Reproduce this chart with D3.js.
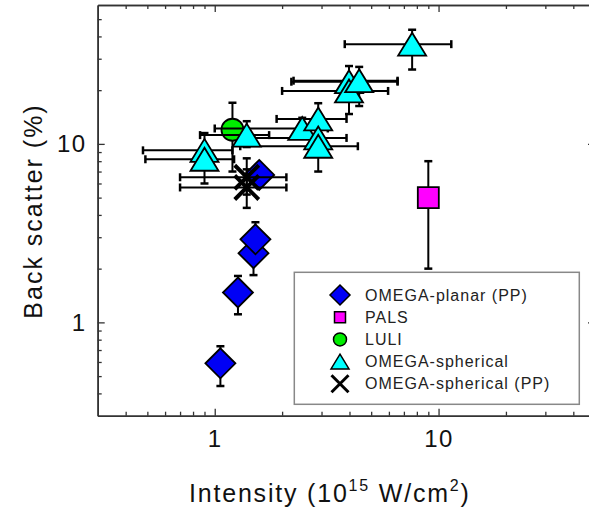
<!DOCTYPE html>
<html>
<head>
<meta charset="utf-8">
<script src="https://cdn.jsdelivr.net/npm/d3@7"></script>
<style>
  html, body { margin: 0; padding: 0; background: #fff; }
  svg { display: block; }
  svg text { font-family: "Liberation Sans", Arial, Helvetica, sans-serif; }
</style>
</head>
<body>
<svg id="chart" width="589" height="515"></svg>
<script>
// Axis ticks
const xMajor = [1, 10];
const xMinor = [0.4, 0.5, 0.6, 0.7, 0.8, 0.9, 2, 3, 4, 5, 6, 7, 8, 9, 20, 30, 40];
const yMajor = [1, 10];
const yMinor = [0.4, 0.5, 0.6, 0.7, 0.8, 0.9, 2, 3, 4, 5, 6, 7, 8, 9, 20, 30, 40, 50];

// OMEGA-planar (PP)
const planarX   = [1.06, 1.27, 1.49, 1.52, 1.58];
const planarY   = [0.59, 1.47, 2.44, 2.92, 6.7];
const planarYLo = [0.44, 1.11, 1.84, 2.25, 6.1];
const planarYHi = [0.735, 1.82, 3.04, 3.64, 7.3];

// PALS
const palsX = [9.0];
const palsY = [5.0];
const palsYLo = [2.0];
const palsYHi = [8.0];

// LULI
const luliX = [1.2];
const luliY = [12];
const luliYLo = [7.0];
const luliYHi = [17];

// OMEGA-spherical
const sphX   = [0.90, 0.90, 1.39, 2.46, 2.90, 2.90, 2.90, 3.98, 3.98, 4.42, 7.62];
const sphY   = [9.2, 8.2, 11.2, 12.2, 13.8, 10.8, 9.7, 22.3, 19.8, 22.6, 36.2];
const sphXLo = [0.478, 0.49, 0.86, 1.0, 1.89, 1.5, 1.3, 2.2, 2.0, 2.25, 3.81];
const sphXHi = [1.2, 1.22, 1.75, 3.2, 3.88, 3.88, 4.36, 6.56, 5.95, 6.56, 11.4];
const sphYLo = [7.6, 6.0, 9.6, 10.8, 12.0, 8.5, 7.0, 19, 14.7, 16.3, 26.1];
const sphYHi = [11.5, 9.5, 13.4, 14.0, 16.9, 12.5, 11.0, 27.3, 23, 27, 43.6];

// OMEGA-spherical (PP)
const sppX   = [1.39, 1.39];
const sppY   = [6.5, 5.7];
const sppXLo = [0.70, 0.70];
const sppXHi = [2.09, 2.09];
const sppYLo = [5.2, 4.38];
const sppYHi = [8.3, 7.2];

const legendLabels = ["OMEGA-planar (PP)", "PALS", "LULI", "OMEGA-spherical", "OMEGA-spherical (PP)"];

const FONT = '"Liberation Sans", Arial, Helvetica, sans-serif';
const svg = d3.select("#chart");
const x = d3.scaleLog().domain([0.3, 50]).range([97.7, 595]);
const y = d3.scaleLog().domain([0.3, 60]).range([415.7, 5]);

const axisColor = "#333";

// frame + ticks on all four sides, ticks pointing inward
function styleAxis(g) {
  g.attr("font-family", FONT).attr("font-size", null);
  g.selectAll("path.domain").attr("stroke", axisColor).attr("stroke-width", 1.6);
  g.selectAll(".tick line").attr("stroke", axisColor).attr("stroke-width", 1.3);
  g.selectAll(".tick text").attr("fill", "#111").style("font-size", "24px")
    .style("letter-spacing", "1.5px");
}
const bottomY = y.range()[0], topY = y.range()[1];
const leftX = x.range()[0], rightX = x.range()[1];

svg.append("g").attr("transform", `translate(0,${bottomY})`)
  .call(d3.axisBottom(x).tickValues(xMinor).tickSize(-4).tickSizeOuter(0).tickFormat(""))
  .call(styleAxis);
svg.append("g").attr("transform", `translate(0,${bottomY})`)
  .call(d3.axisBottom(x).tickValues(xMajor).tickSize(-7).tickSizeOuter(0).tickPadding(14).tickFormat(d3.format("d")))
  .call(styleAxis);
svg.append("g").attr("transform", `translate(0,${topY})`)
  .call(d3.axisTop(x).tickValues(xMinor).tickSize(-4).tickSizeOuter(0).tickFormat(""))
  .call(styleAxis);
svg.append("g").attr("transform", `translate(0,${topY})`)
  .call(d3.axisTop(x).tickValues(xMajor).tickSize(-7).tickSizeOuter(0).tickFormat(""))
  .call(styleAxis);
svg.append("g").attr("transform", `translate(${leftX},0)`)
  .call(d3.axisLeft(y).tickValues(yMinor).tickSize(-4).tickSizeOuter(0).tickFormat(""))
  .call(styleAxis);
svg.append("g").attr("transform", `translate(${leftX},0)`)
  .call(d3.axisLeft(y).tickValues(yMajor).tickSize(-7).tickSizeOuter(0).tickPadding(11).tickFormat(d3.format("d")))
  .call(styleAxis);
svg.append("g").attr("transform", `translate(${rightX},0)`)
  .call(d3.axisRight(y).tickValues(yMinor).tickSize(-4).tickSizeOuter(0).tickFormat(""))
  .call(styleAxis);
svg.append("g").attr("transform", `translate(${rightX},0)`)
  .call(d3.axisRight(y).tickValues(yMajor).tickSize(-7).tickSizeOuter(0).tickFormat(""))
  .call(styleAxis);

// axis titles
const xt = svg.append("text").attr("x", 189).attr("y", 501.7).attr("font-family", FONT)
  .style("font-size", "25px").style("letter-spacing", "1.8px").attr("fill", "#111");
xt.append("tspan").text("Intensity (10");
xt.append("tspan").attr("dy", -11).style("font-size", "16px").text("15");
xt.append("tspan").attr("dy", 11).text(" W/cm");
xt.append("tspan").attr("dy", -11).style("font-size", "16px").text("2");
xt.append("tspan").attr("dy", 11).text(")");

svg.append("text")
  .attr("transform", "translate(41.5,211) rotate(-90)")
  .attr("text-anchor", "middle").attr("font-family", FONT)
  .style("font-size", "25px").style("letter-spacing", "2px").attr("fill", "#111")
  .text("Back scatter (%)");

// marker shapes
const shapes = {
  diamond: (s) => `M0,${-s}L${s},0L0,${s}L${-s},0Z`,
  square: (s) => `M${-s},${-s}H${s}V${s}H${-s}Z`,
  triangle: (s) => `M0,${-s * 0.82}L${s},${s * 0.82}L${-s},${s * 0.82}Z`
};

function rows(xs, ys, xlo, xhi, ylo, yhi) {
  return xs.map((v, i) => ({
    x: v, y: ys[i],
    xlo: xlo ? xlo[i] : null, xhi: xhi ? xhi[i] : null,
    ylo: ylo ? ylo[i] : null, yhi: yhi ? yhi[i] : null
  }));
}

const cap = 4;
function errorBars(g, data) {
  const eb = g.append("g").attr("stroke", "#000").attr("stroke-width", 2).attr("fill", "none");
  data.forEach(d => {
    const cx = x(d.x), cy = y(d.y);
    if (d.ylo != null) {
      eb.append("line").attr("x1", cx).attr("x2", cx).attr("y1", y(d.ylo)).attr("y2", y(d.yhi));
      [d.ylo, d.yhi].forEach(v => eb.append("line").attr("stroke-width", 2.5)
        .attr("x1", cx - cap).attr("x2", cx + cap).attr("y1", y(v)).attr("y2", y(v)));
    }
    if (d.xlo != null) {
      eb.append("line").attr("y1", cy).attr("y2", cy).attr("x1", x(d.xlo)).attr("x2", x(d.xhi));
      [d.xlo, d.xhi].forEach(v => eb.append("line").attr("stroke-width", 2.5)
        .attr("y1", cy - cap).attr("y2", cy + cap).attr("x1", x(v)).attr("x2", x(v)));
    }
  });
}

function drawSeries(data, kind, fill, size) {
  const g = svg.append("g");
  errorBars(g, data);
  g.selectAll("path.m").data(data).join("path").attr("class", "m")
    .attr("transform", d => `translate(${x(d.x)},${y(d.y)})`)
    .attr("d", shapes[kind](size))
    .attr("fill", fill).attr("stroke", "#000").attr("stroke-width", 1.8)
    .attr("stroke-linejoin", "miter");
}

drawSeries(rows(planarX, planarY, null, null, planarYLo, planarYHi), "diamond", "#0000f5", 15);
drawSeries(rows(palsX, palsY, null, null, palsYLo, palsYHi), "square", "#ff00ff", 10.5);

const luli = rows(luliX, luliY, null, null, luliYLo, luliYHi);
const gl = svg.append("g");
errorBars(gl, luli);
gl.selectAll("circle").data(luli).join("circle")
  .attr("cx", d => x(d.x)).attr("cy", d => y(d.y)).attr("r", 11)
  .attr("fill", "#00ee00").attr("stroke", "#000").attr("stroke-width", 1.8);

drawSeries(rows(sphX, sphY, sphXLo, sphXHi, sphYLo, sphYHi), "triangle", "#00ffff", 14);

const spp = rows(sppX, sppY, sppXLo, sppXHi, sppYLo, sppYHi);
const gx = svg.append("g");
errorBars(gx, spp);
gx.selectAll("path.x").data(spp).join("path").attr("class", "x")
  .attr("transform", d => `translate(${x(d.x)},${y(d.y)})`)
  .attr("d", "M-12,-12L12,12M12,-12L-12,12")
  .attr("stroke", "#000").attr("stroke-width", 4).attr("fill", "none");

// legend
const lg = svg.append("g");
lg.append("rect").attr("x", 294.3).attr("y", 272.3).attr("width", 285).attr("height", 132)
  .attr("fill", "#fff").attr("stroke", "#888").attr("stroke-width", 1.5);
const legendRows = [
  { kind: "diamond", fill: "#0000f5", size: 10 },
  { kind: "square", fill: "#ff00ff", size: 5.5 },
  { kind: "circle", fill: "#00ee00", size: 6.5 },
  { kind: "triangle", fill: "#00ffff", size: 9 },
  { kind: "x", fill: "none", size: 8.5 }
];
legendRows.forEach((r, i) => {
  const cy = 295 + i * 22.2, cx = 340;
  const item = lg.append("g").attr("transform", `translate(${cx},${cy})`);
  if (r.kind === "circle") {
    item.append("circle").attr("r", r.size).attr("fill", r.fill).attr("stroke", "#000").attr("stroke-width", 1.5);
  } else if (r.kind === "x") {
    const s = r.size;
    item.append("path").attr("d", `M${-s},${-s}L${s},${s}M${s},${-s}L${-s},${s}`)
      .attr("stroke", "#000").attr("stroke-width", 3);
  } else {
    item.append("path").attr("d", shapes[r.kind](r.size)).attr("fill", r.fill)
      .attr("stroke", "#000").attr("stroke-width", 1.5);
  }
  lg.append("text").attr("x", 365).attr("y", cy + 5.5).attr("font-family", FONT)
    .style("font-size", "16px").style("letter-spacing", "1px").attr("fill", "#222")
    .text(legendLabels[i]);
});
</script>
</body>
</html>
